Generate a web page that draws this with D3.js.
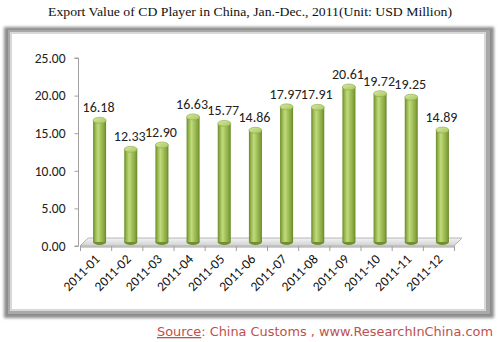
<!DOCTYPE html>
<html><head><meta charset="utf-8">
<script src="https://cdn.jsdelivr.net/npm/d3@7"></script>
<style>
html,body{margin:0;padding:0;background:#fff;}
svg{display:block;}
</style></head>
<body>
<script>
const categories = ["2011-01","2011-02","2011-03","2011-04","2011-05","2011-06","2011-07","2011-08","2011-09","2011-10","2011-11","2011-12"];
const values = [16.18,12.33,12.90,16.63,15.77,14.86,17.97,17.91,20.61,19.72,19.25,14.89];
const yTicks = [0,5,10,15,20,25];
const titleText = "Export Value of CD Player in China, Jan.-Dec., 2011(Unit: USD Million)";

const W = 499, H = 342;
const svg = d3.select("body").append("svg").attr("width", W).attr("height", H);
const defs = svg.append("defs");

const blur = defs.append("filter").attr("id","fb").attr("x","-5%").attr("y","-5%").attr("width","110%").attr("height","110%");
blur.append("feGaussianBlur").attr("stdDeviation",1.6);
const fg = defs.append("linearGradient").attr("id","barg").attr("x1","0").attr("x2","1").attr("y1","0").attr("y2","0");
[["0%","#6a8a2a"],["18%","#98ba4e"],["38%","#c2da7e"],["55%","#a9c763"],["85%","#85a53c"],["100%","#66852a"]]
  .forEach(s=>fg.append("stop").attr("offset",s[0]).attr("stop-color",s[1]));
const tg = defs.append("linearGradient").attr("id","topg").attr("x1","0").attr("x2","1").attr("y1","0").attr("y2","1");
[["0%","#d6e8a0"],["100%","#a8c560"]].forEach(s=>tg.append("stop").attr("offset",s[0]).attr("stop-color",s[1]));
const flg = defs.append("linearGradient").attr("id","floorg").attr("x1","0").attr("x2","0").attr("y1","0").attr("y2","1");
[["0%","#f4f4f4"],["100%","#d0d0d0"]].forEach(s=>flg.append("stop").attr("offset",s[0]).attr("stop-color",s[1]));

svg.append("rect").attr("x",4).attr("y",27).attr("width",490).attr("height",291).attr("fill","#8c8c8c").attr("filter","url(#fb)");
svg.append("rect").attr("x",8).attr("y",30).attr("width",482).attr("height",284).attr("fill","#a8a8a8");
svg.append("rect").attr("x",10).attr("y",32).attr("width",476).attr("height",279).attr("fill","#d8d8d8");
svg.append("rect").attr("x",12).attr("y",34).attr("width",472).attr("height",275).attr("fill","#ffffff");

svg.append("text").attr("x",250).attr("y",16).attr("text-anchor","middle")
  .attr("font-family","'Book Antiqua','Palatino Linotype','Liberation Serif',serif").attr("font-size",13.5)
  .attr("fill","#111").attr("textLength",404).attr("lengthAdjust","spacingAndGlyphs").text(titleText);

const x = d3.scaleBand().domain(categories).range([80,454]).paddingInner(0).paddingOuter(0);
const y = d3.scaleLinear().domain([0,25]).range([246,58]);
const dx = 4, dy = -4, depthX = 8, depthY = -8;
const barW = 13;
const font = "Carlito, Calibri, Lato, 'Open Sans', sans-serif";

const x0 = 80, x1 = 454, yb = y(0);
svg.append("path").attr("d",`M${x0},${yb}L${x1},${yb}L${x1+depthX},${yb+depthY}L${x0+depthX},${yb+depthY}Z`)
  .attr("fill","url(#floorg)").attr("stroke","#a6a6a6").attr("stroke-width",0.8);

const yAxis = d3.axisLeft(y).tickValues(yTicks).tickFormat(d3.format(".2f")).tickSize(4).tickPadding(9);
const ga = svg.append("g").attr("transform","translate(78.5,0)").call(yAxis);
ga.select(".domain").attr("stroke","#a0a0a0").attr("d",`M-4,${y(25)}H0V${y(0)}H-4`);
ga.selectAll(".tick line").attr("stroke","#a0a0a0");
ga.selectAll(".tick text").attr("font-family",font).attr("font-size",13.5).attr("fill","#222");

const xAxis = d3.axisBottom(x).tickSize(0).tickFormat("");
const gx = svg.append("g").attr("transform",`translate(0,${yb+0.5})`).call(xAxis);
gx.select(".domain").attr("stroke","#a0a0a0");
const tickPos = categories.map(c=>x(c)).concat([x1]);
svg.append("g").selectAll("line").data(tickPos).join("line")
  .attr("x1",d=>d+0.5).attr("x2",d=>d+0.5).attr("y1",yb).attr("y2",yb+5).attr("stroke","#a0a0a0");
svg.append("g").selectAll("text").data(categories).join("text")
  .attr("transform",d=>`translate(${x(d)+x.bandwidth()/2+5},${yb+14}) rotate(-45)`)
  .attr("text-anchor","end").attr("font-family",font).attr("font-size",13.5).attr("fill","#111").text(d=>d);

const bars = svg.append("g").selectAll("g").data(categories.map((c,i)=>({c,v:values[i]}))).join("g");
const cx = d => x(d.c) + x.bandwidth()/2 + dx;
const ry = 3;
bars.append("ellipse").attr("cx",cx).attr("cy",yb+dy).attr("rx",barW/2).attr("ry",ry).attr("fill","#6f8f2f");
bars.append("rect").attr("x",d=>cx(d)-barW/2).attr("width",barW)
  .attr("y",d=>y(d.v)+dy).attr("height",d=>y(0)-y(d.v)).attr("fill","url(#barg)");
bars.append("ellipse").attr("cx",cx).attr("cy",d=>y(d.v)+dy).attr("rx",barW/2).attr("ry",ry)
  .attr("fill","url(#topg)").attr("stroke","#8aa845").attr("stroke-width",0.6);
bars.append("text").attr("x",d=>cx(d)-1).attr("y",d=>y(d.v)+dy-8).attr("text-anchor","middle")
  .attr("font-family",font).attr("font-size",14).attr("fill","#222").text(d=>d.v.toFixed(2));

const src = svg.append("text").attr("x",493).attr("y",336).attr("text-anchor","end")
  .attr("font-family","'Century Gothic','URW Gothic','DejaVu Sans',sans-serif").attr("font-size",13)
  .attr("fill","#c0504d").attr("textLength",336).attr("lengthAdjust","spacingAndGlyphs");
src.append("tspan").attr("text-decoration","underline").text("Source");
src.append("tspan").text(": China Customs , www.ResearchInChina.com");
</script>
</body></html>
